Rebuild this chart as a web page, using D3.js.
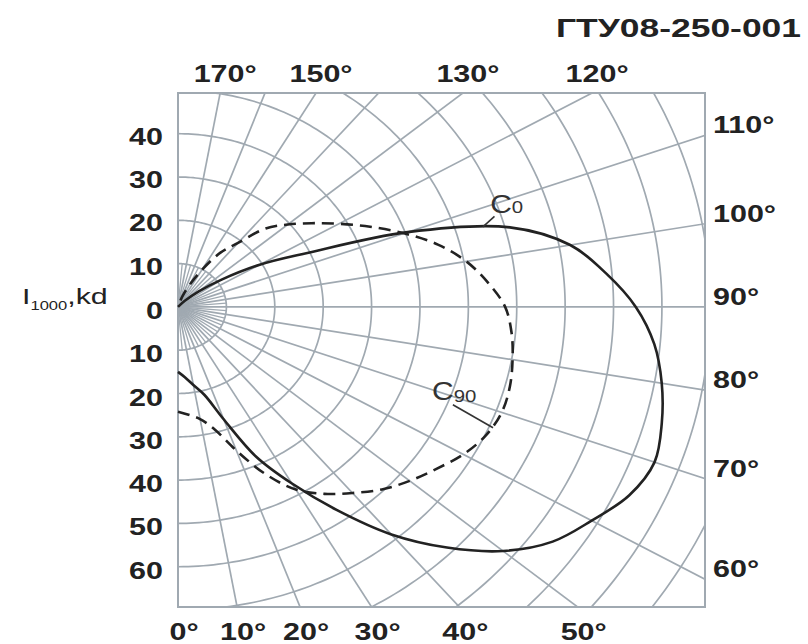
<!DOCTYPE html>
<html><head><meta charset="utf-8">
<script src="https://cdn.jsdelivr.net/npm/d3@7"></script>
<style>body{margin:0;background:#fff}svg{display:block}</style>
</head><body>
<svg id="chart" width="808" height="644"></svg>
<script>
// ---- data ----
const c0Angles = [0,5,10,15,20,25,30,35,40,45,50,55,60,65,70,75,80,85,90,95,100,105,110,115,120,125,130,135,140];
const c0Values = [15,16.3,18.3,21.0,27.6,38.1,47.1,57.3,68.6,78.6,87.7,94.5,98.7,102.9,104.8,103.5,101.5,98.8,94.6,88.8,82.3,71,50.5,29.5,19.5,11,5.5,2,0];
const c90Angles = [0,5,10,15,20,25,30,35,40,45,50,55,60,65,70,75,80,85,90,95,100,105,110,115,120,125,130,135,140,145,150,155,160,165];
const c90Values = [24.2,25,26.3,29.3,35.3,42.5,48.7,52.7,56.1,59.6,62.5,65.2,68.1,70.2,71.2,71,70.2,69.2,67.6,64.3,60.5,55.6,49.7,43.8,38.4,33.7,29.6,25.6,19.3,15.3,9.8,5.5,2.4,0];
const upperTickLabels = [40,30,20,10];
const lowerTickLabels = [0,10,20,30,40,50,60];
const circleRadii = [10,20,30,40,50,60,70,80,90,100,110,120,130];
const rayAngles = [0,10,20,30,40,50,60,70,80,90,100,110,120,130,140,150,160,170,180];
const shortRayAngles = [5,15,25,35,45,55,65,75,85,95,105,115,125,135,145,155,165,175];
const topAngleLabels = [170,150,130,120];
const rightAngleLabels = [110,100,90,80,70,60];
const bottomAngleLabels = [0,10,20,30,40,50];
const titleText = "ГТУ08-250-001";
const seriesNames = ["C", "0", "90"];

// ---- layout ----
const svg = d3.select("#chart");
const x = d3.scaleLinear().domain([0, 108.9]).range([178, 705]);   // horizontal intensity component
const y = d3.scaleLinear().domain([-49.4, 69.3]).range([93, 607]);  // vertical component, downward positive
const rad = d => d * Math.PI / 180;
const proj = (a, I) => [x(I * Math.sin(rad(a))), y(I * Math.cos(rad(a)))];

const gridColor = "#a0a9b1";
const inkColor = "#222";
const sx = 1.27;

svg.append("rect").attr("width", 808).attr("height", 644).attr("fill", "#fff");

svg.append("clipPath").attr("id", "clip").append("rect")
  .attr("x", x(0)).attr("y", y(-49.4)).attr("width", x(108.9) - x(0)).attr("height", y(69.3) - y(-49.4));

const grid = svg.append("g").attr("clip-path", "url(#clip)")
  .attr("fill", "none").attr("stroke", gridColor).attr("stroke-width", 1.7);

const line = d3.line();
const arcAngles = d3.range(0, 180.5, 1);
grid.selectAll("path.circle").data(circleRadii).join("path").attr("class", "circle")
  .attr("d", r => line(arcAngles.map(a => proj(a, r))));
grid.selectAll("path.ray").data(rayAngles).join("path").attr("class", "ray")
  .attr("d", a => line([proj(a, 0), proj(a, 200)]));
grid.selectAll("path.sray").data(shortRayAngles).join("path").attr("class", "sray")
  .attr("stroke-width", 1.3)
  .attr("d", a => line([proj(a, 0), proj(a, 10)]));

svg.append("rect").attr("x", x(0)).attr("y", y(-49.4))
  .attr("width", x(108.9) - x(0)).attr("height", y(69.3) - y(-49.4))
  .attr("fill", "none").attr("stroke", gridColor).attr("stroke-width", 2);

// ---- curves ----
const curve = d3.line().curve(d3.curveCatmullRom.alpha(0.5));
svg.append("path").attr("fill", "none").attr("stroke", inkColor).attr("stroke-width", 2.6)
  .attr("d", curve(c0Angles.map((a, i) => proj(a, c0Values[i]))));
svg.append("path").attr("fill", "none").attr("stroke", inkColor).attr("stroke-width", 2.6)
  .attr("stroke-dasharray", "12,7")
  .attr("d", curve(c90Angles.map((a, i) => proj(a, c90Values[i]))));

// ---- labels ----
const lab = svg.append("g").attr("font-family", "Liberation Sans, Arial, sans-serif")
  .attr("font-weight", "bold").attr("font-size", 24).attr("fill", inkColor);

function put(g, px, py, txt, anchor, k) {
  return g.append("text").attr("transform", `translate(${px},${py}) scale(${k},1)`)
    .attr("text-anchor", anchor).text(txt);
}
upperTickLabels.forEach(v => put(lab, 163, y(-v) + 11, v, "end", sx));
lowerTickLabels.forEach(v => put(lab, 163, y(v) + 12, v, "end", sx));

topAngleLabels.forEach(a => {
  const I = -49.4 / Math.cos(rad(a));
  put(lab, x(I * Math.sin(rad(a))) + 5, 82, a + "°", "middle", sx);
});
rightAngleLabels.forEach(a => {
  const I = 108.9 / Math.sin(rad(a));
  put(lab, 713, y(I * Math.cos(rad(a))) - 2, a + "°", "start", sx);
});
bottomAngleLabels.forEach(a => {
  const I = 69.3 / Math.cos(rad(a));
  put(lab, x(I * Math.sin(rad(a))) + 6, 640, a + "°", "middle", sx);
});

svg.append("text").attr("x", 556).attr("y", 37)
  .attr("font-family", "Liberation Sans, Arial, sans-serif").attr("font-weight", "bold")
  .attr("font-size", 26).attr("fill", inkColor)
  .attr("textLength", 245).attr("lengthAdjust", "spacingAndGlyphs").text(titleText);

// axis name I1000,kd
const an = svg.append("text").attr("transform", "translate(22,304) scale(1.38,1)")
  .attr("font-family", "Liberation Sans, Arial, sans-serif").attr("font-size", 22).attr("fill", inkColor);
an.append("tspan").text("I");
an.append("tspan").attr("font-size", 12).attr("dy", 6).text("1000");
an.append("tspan").attr("dy", -6).text(",kd");

// series annotations (positions in data units)
const annC0 = {label: [64.5, -21.7], lead: [[63.0, -18.5], [65.4, -20.9]]};
const annC90 = {label: [52.5, 21.5], lead: [[56.8, 22.6], [65.1, 27.9]]};
const ann = svg.append("g").attr("font-family", "Liberation Sans, Arial, sans-serif").attr("fill", "#333");
[[annC0, seriesNames[1], 0], [annC90, seriesNames[2], 2]].forEach(([a, sub, dy]) => {
  const t = ann.append("text").attr("transform", `translate(${x(a.label[0])},${y(a.label[1])}) scale(1.2,1)`);
  t.append("tspan").attr("font-size", 25).text(seriesNames[0]);
  t.append("tspan").attr("font-size", 17).attr("dy", dy).text(sub);
  svg.append("path").attr("fill", "none").attr("stroke", "#333").attr("stroke-width", 1.6)
    .attr("d", line(a.lead.map(p => [x(p[0]), y(p[1])])));
});
</script>
</body></html>
